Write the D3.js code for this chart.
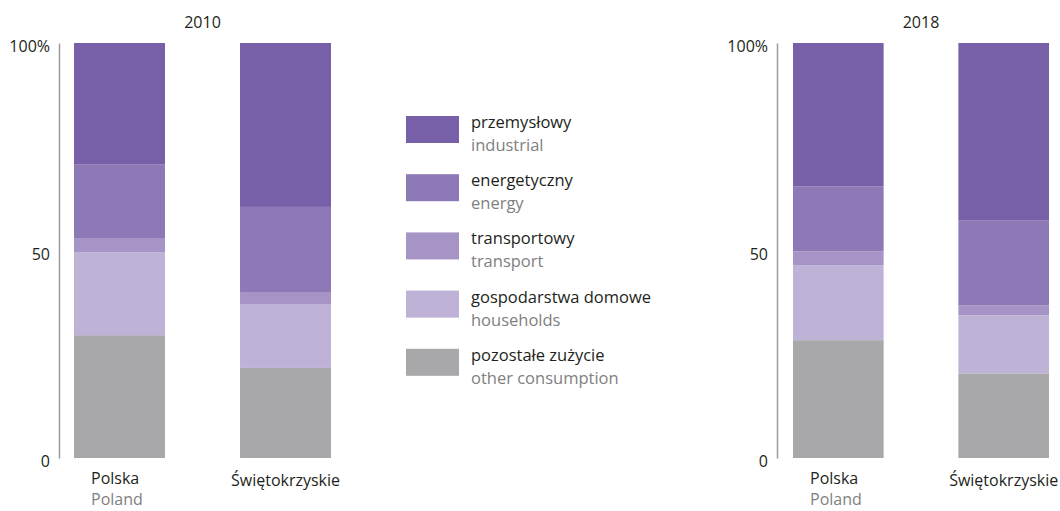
<!DOCTYPE html>
<html><head><meta charset="utf-8">
<script src="https://cdn.jsdelivr.net/npm/d3@7"></script>
<style>
body{margin:0;background:#fff;}
svg text{font-family:"Open Sans","Noto Sans",sans-serif;}
</style></head>
<body><svg id="c" width="1060" height="511"></svg>
<script>
const years = ["2010", "2018"];
const regions = ["Polska", "Świętokrzyskie"];
const regionsEn = ["Poland", ""];
const seriesKeys = ["other", "households", "transport", "energy", "industrial"];
const legendPl = ["przemysłowy", "energetyczny", "transportowy", "gospodarstwa domowe", "pozostałe zużycie"];
const legendEn = ["industrial", "energy", "transport", "households", "other consumption"];
const legendKeys = ["industrial", "energy", "transport", "households", "other"];
const tickValues = [0, 50, 100];
const tickLabels = ["0", "50", "100%"];

// 2010 [Polska, Świętokrzyskie]
const industrial2010 = [29.2, 39.5];
const energy2010 = [17.8, 20.5];
const transport2010 = [3.4, 2.9];
const households2010 = [20.0, 15.4];
const other2010 = [29.6, 21.7];
// 2018 [Polska, Świętokrzyskie]
const industrial2018 = [34.6, 42.8];
const energy2018 = [15.6, 20.4];
const transport2018 = [3.4, 2.4];
const households2018 = [18.0, 14.0];
const other2018 = [28.4, 20.4];

const colors = {industrial:"#7860a8", energy:"#8d79b5", transport:"#a694c6", households:"#bfb2d7", other:"#a8a8ab"};

function rows(ind, en, tr, hh, ot){
  return regions.map((r,i)=>({region:r, industrial:ind[i], energy:en[i], transport:tr[i], households:hh[i], other:ot[i]}));
}
const panels = [
  {year:years[0], data:rows(industrial2010, energy2010, transport2010, households2010, other2010), axisX:59, range:[74,331]},
  {year:years[1], data:rows(industrial2018, energy2018, transport2018, households2018, other2018), axisX:777, range:[793,1049]}
];

const svg = d3.select("#c");
const y = d3.scaleLinear().domain([0,100]).range([458,43]);
const stack = d3.stack().keys(seriesKeys);

panels.forEach(p=>{
  const x = d3.scaleBand().domain(regions).range(p.range).paddingInner(0.452).paddingOuter(0);
  const g = svg.append("g");
  const s = stack(p.data);
  g.selectAll("g.layer").data(s).join("g").attr("fill", d=>colors[d.key])
    .selectAll("rect").data(d=>d).join("rect")
    .attr("x", d=>x(d.data.region)).attr("width", x.bandwidth())
    .attr("y", d=>y(d[1])).attr("height", d=>y(d[0])-y(d[1]));
  const ax = g.append("g").attr("transform", `translate(${p.axisX},0)`)
    .call(d3.axisLeft(y).tickValues(tickValues).tickSize(0).tickSizeOuter(0).tickPadding(9)
      .tickFormat((d,i)=>tickLabels[i]));
  ax.select(".domain").attr("stroke","#9b9b9b").attr("stroke-width",1.5);
  ax.selectAll("text").attr("font-size",16).attr("fill","#231f20").attr("dy","0.55em")
    .attr("font-family","'Open Sans',sans-serif");
  g.append("text").attr("x", (p.range[0]+p.range[1])/2).attr("y", 28).attr("text-anchor","middle")
    .attr("font-size",16).attr("fill","#231f20").text(p.year);
  regions.forEach((r,i)=>{
    const cx = x(r) + x.bandwidth()/2;
    if(regionsEn[i]){
      g.append("text").attr("x", x(r)+17).attr("y",484).attr("font-size",16).attr("fill","#231f20").text(r);
      g.append("text").attr("x", x(r)+17).attr("y",505).attr("font-size",16).attr("fill","#808080").text(regionsEn[i]);
    } else {
      g.append("text").attr("x", cx).attr("y",486).attr("text-anchor","middle").attr("font-size",16).attr("fill","#231f20").text(r);
    }
  });
});

const lg = svg.append("g");
const ly = d3.scaleBand().domain(legendKeys).range([116, 116+58.2*5]);
legendKeys.forEach((k,i)=>{
  const yy = ly(k);
  lg.append("rect").attr("x",406).attr("y",yy).attr("width",53).attr("height",27).attr("fill",colors[k]);
  lg.append("text").attr("x",471).attr("y",yy+12).attr("font-size",16.5).attr("fill","#231f20").text(legendPl[i]);
  lg.append("text").attr("x",471).attr("y",yy+35).attr("font-size",16.5).attr("fill","#808080").text(legendEn[i]);
});
</script></body></html>
